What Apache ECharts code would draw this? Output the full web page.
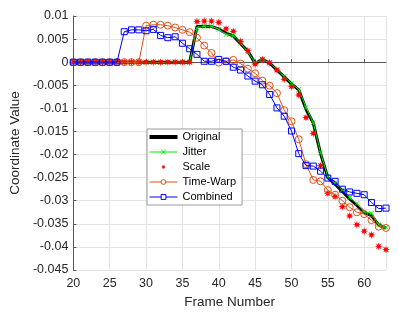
<!DOCTYPE html>
<html>
<head>
<meta charset="utf-8">
<script src="https://cdn.jsdelivr.net/npm/echarts@6/dist/echarts.min.js"></script>
<style>
html,body{margin:0;padding:0;background:#fff;}
#chart{width:399px;height:316px;}
</style>
</head>
<body>
<div id="chart"></div>
<script>
const frames = [20,21,22,23,24,25,26,27,28,29,30,31,32,33,34,35,36,37,38,39,40,41,42,43,44,45,46,47,48,49,50,51,52,53,54,55,56,57,58,59,60,61,62,63];

const original = [0,0,0,0,0,0,0,0,0,0,0,0,0,0,0,0,0,
  0.0077,0.0078,0.0077,0.0072,0.0063,0.0057,0.0040,0.0024,-0.0003,0.0006,-0.0002,-0.0017,-0.0032,-0.0047,-0.0060,
  -0.0102,-0.0132,-0.0198,-0.0250,-0.0264,-0.0280,-0.0296,-0.0310,-0.0325,-0.0332,-0.0353,-0.0359];

const jitter = [0.0001,0,-0.0001,0,0.0001,0,0,-0.0001,0,0.0001,0,0,-0.0001,0,0.0001,0,0,
  0.0074,0.0078,0.0078,0.0071,0.0060,0.0058,0.0041,0.0022,-0.0001,0.0005,-0.0001,-0.0016,-0.0031,-0.0046,-0.0059,
  -0.0098,-0.0131,-0.0196,-0.0249,-0.0262,-0.0276,-0.0293,-0.0306,-0.0324,-0.0327,-0.0352,-0.0358];

const scaled = [0,0,0,0,0,0,0,0,0,0,0,0,0,0,0,0,0,
  0.0088,0.0089,0.0089,0.0086,0.0072,0.0067,0.0045,0.0025,-0.0004,0.0006,-0.0001,-0.0017,-0.0037,-0.0053,-0.0071,
  -0.0120,-0.0154,-0.0224,-0.0284,-0.0291,-0.0313,-0.0333,-0.0352,-0.0366,-0.0374,-0.0399,-0.0406];

const timeWarp = [0,0,0,0,0,0,0,0,0,0,
  0.0079,0.0081,0.0081,0.0079,0.0075,0.0070,0.0065,0.0053,0.0036,0.0020,-0.0001,0.0002,0.0005,-0.0003,-0.0014,-0.0024,
  -0.0040,-0.0051,-0.0067,-0.0104,-0.0128,-0.0167,-0.0221,-0.0255,-0.0258,-0.0277,-0.0287,-0.0300,-0.0314,-0.0325,-0.0329,-0.0342,-0.0356,-0.0359];

const combined = [0,0,0,0,0,0,0,
  0.0066,0.0070,0.0070,0.0068,0.0071,0.0058,0.0053,0.0055,0.0041,0.0029,0.0017,0.0002,0.0002,0.0006,0.0002,-0.0011,-0.0017,-0.0030,-0.0041,
  -0.0049,-0.0070,-0.0099,-0.0117,-0.0149,-0.0198,-0.0224,-0.0225,-0.0236,-0.0251,-0.0258,-0.0275,-0.0281,-0.0284,-0.0287,-0.0304,-0.0317,-0.0316];

const seriesNames = ['Original','Jitter','Scale','Time-Warp','Combined'];
const colors = ['#000000','#00ee00','#ff0000','#d95319','#0000ff'];

const pair = arr => frames.map((f, i) => [f, arr[i]]);

const starPath = 'path://M20,10 L14,11.66 L17.07,17.07 L11.66,14 L10,20 L8.34,14 L2.93,17.07 L6,11.66 L0,10 L6,8.34 L2.93,2.93 L8.34,6 L10,0 L11.66,6 L17.07,2.93 L14,8.34 Z';
const xPath = 'path://M2,0 L10,8 L18,0 L20,2 L12,10 L20,18 L18,20 L10,12 L2,20 L0,18 L8,10 L0,2 Z';
const thickLine = 'path://M0,0 L28,0 L28,4 L0,4 Z';

const FONT = 'Liberation Sans, Arial, sans-serif';
const chart = echarts.init(document.getElementById('chart'), null, {renderer: 'canvas'});

chart.setOption({
  animation: false,
  backgroundColor: '#ffffff',
  grid: {left: 63, right: 13, top: 16, bottom: 46, containLabel: false},
  xAxis: {
    type: 'value', min: 20, max: 63, interval: 5,
    name: 'Frame Number', nameLocation: 'middle', nameGap: 23,
    nameTextStyle: {fontFamily: FONT, fontSize: 13.5, color: '#262626'},
    axisLine: {lineStyle: {color: '#555555', width: 1}},
    axisTick: {show: true, inside: true, length: 3, lineStyle: {color: '#555555'}},
    axisLabel: {fontFamily: FONT, fontSize: 12.5, color: '#262626', margin: 7, showMaxLabel: false},
    splitLine: {show: true, lineStyle: {color: '#e3e3e3', width: 1}}
  },
  yAxis: {
    type: 'value', min: -0.045, max: 0.01, interval: 0.005,
    name: 'Coordinate Value', nameLocation: 'middle', nameGap: 42,
    nameTextStyle: {fontFamily: FONT, fontSize: 13.5, color: '#262626'},
    axisLine: {show: true, lineStyle: {color: '#555555', width: 1}},
    axisTick: {show: true, inside: true, length: 3, lineStyle: {color: '#555555'}},
    axisLabel: {fontFamily: FONT, fontSize: 12.5, color: '#262626', margin: 5},
    splitLine: {show: true, lineStyle: {color: '#e3e3e3', width: 1}}
  },
  legend: {
    orient: 'vertical', left: 147, top: 129,
    data: [
      {name: seriesNames[0], icon: thickLine},
      {name: seriesNames[1], lineStyle: {width: 1}},
      {name: seriesNames[2]},
      {name: seriesNames[3], lineStyle: {width: 1}, itemStyle: {color: '#ffffff', borderColor: colors[3], borderWidth: 1}},
      {name: seriesNames[4], lineStyle: {width: 1}, itemStyle: {color: '#ffffff', borderColor: colors[4], borderWidth: 1}}
    ],
    itemWidth: 28, itemHeight: 6, itemGap: 1,
    padding: [1, 6, 1, 2],
    backgroundColor: '#ffffff', borderColor: '#9a9a9a', borderWidth: 1, borderRadius: 0,
    textStyle: {fontFamily: FONT, fontSize: 11, color: '#000000', lineHeight: 14}
  },
  series: [
    {name: seriesNames[0], type: 'line', data: pair(original), showSymbol: false, symbol: 'none',
     lineStyle: {color: colors[0], width: 3}, itemStyle: {color: colors[0]}, z: 1},
    {name: seriesNames[1], type: 'line', data: pair(jitter), symbol: xPath, symbolSize: 5,
     lineStyle: {color: colors[1], width: 1}, itemStyle: {color: colors[1]}, z: 2},
    {name: seriesNames[2], type: 'line', data: pair(scaled), symbol: starPath, symbolSize: 8,
     lineStyle: {width: 0, opacity: 0}, itemStyle: {color: colors[2]}, z: 3},
    {name: seriesNames[3], type: 'line', data: pair(timeWarp), symbol: 'circle', symbolSize: 7,
     lineStyle: {color: colors[3], width: 1}, itemStyle: {color: 'rgba(255,255,255,0)', borderColor: colors[3], borderWidth: 1}, z: 4},
    {name: seriesNames[4], type: 'line', data: pair(combined), symbol: 'rect', symbolSize: 6,
     lineStyle: {color: colors[4], width: 1}, itemStyle: {color: 'rgba(255,255,255,0)', borderColor: colors[4], borderWidth: 1}, z: 5}
  ]
});
</script>
</body>
</html>
